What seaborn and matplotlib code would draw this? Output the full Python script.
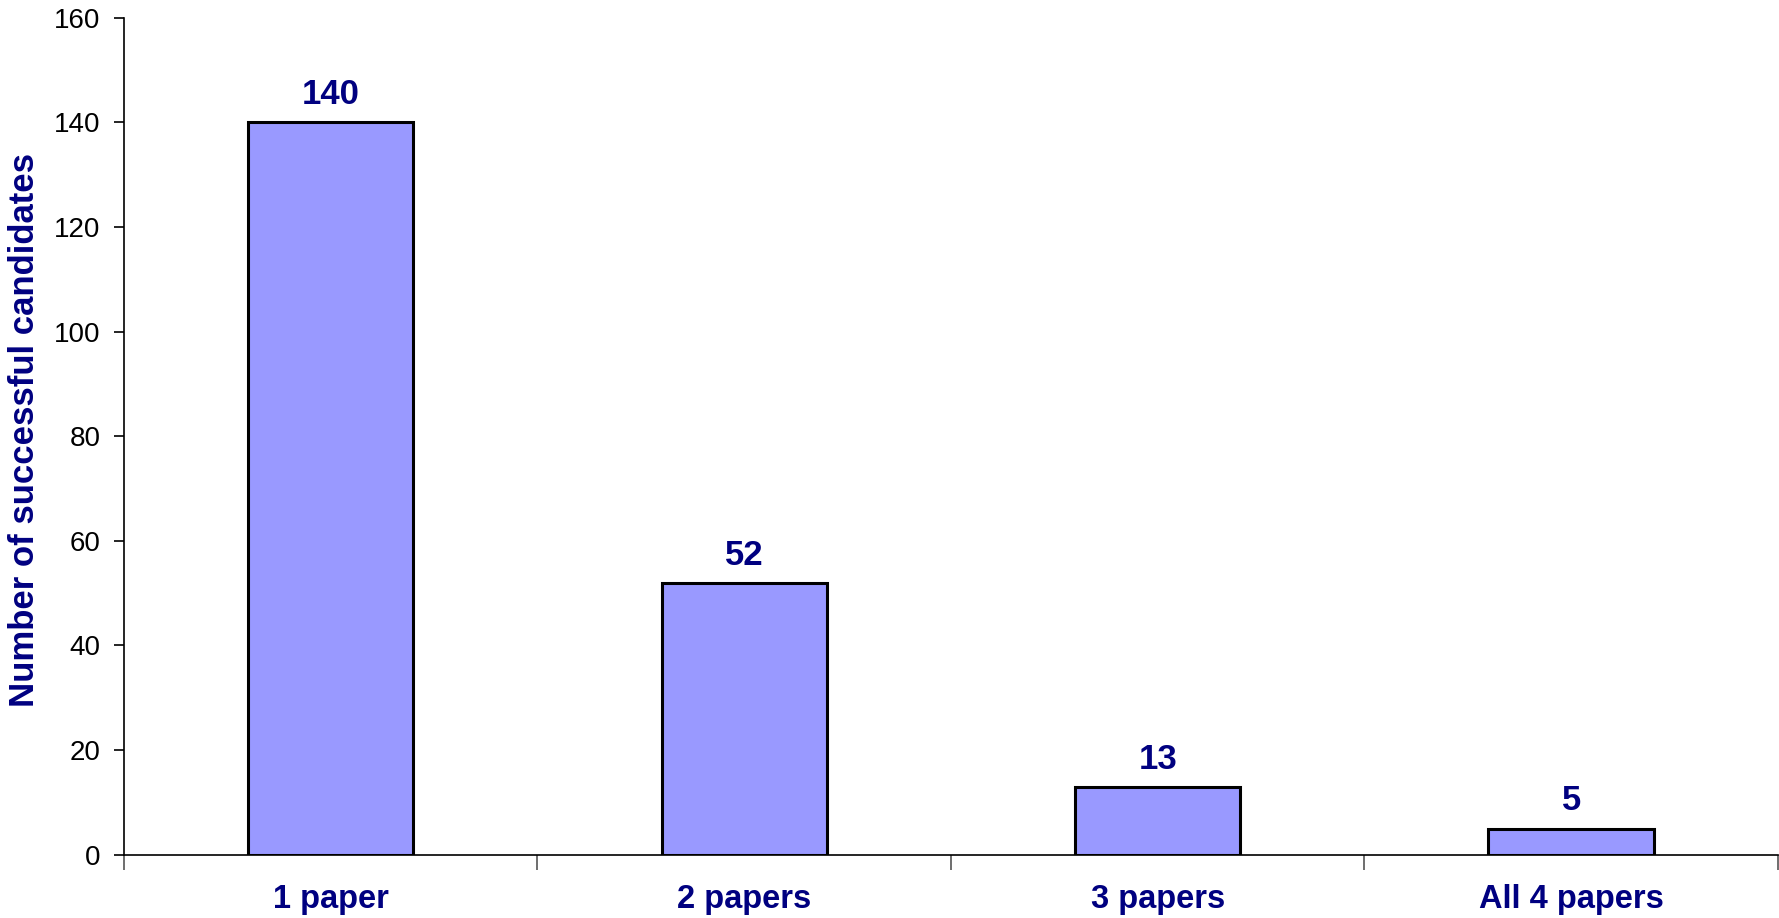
import matplotlib
matplotlib.use("Agg")
import matplotlib.pyplot as plt
import pandas as pd
import seaborn as sns

categories = ["1 paper", "2 papers", "3 papers", "All 4 papers"]
counts = [140, 52, 13, 5]

navy = "#000080"

sns.set_style("white")
plt.rcParams['font.family'] = ['Liberation Sans', 'DejaVu Sans']

df = pd.DataFrame({"papers": categories, "count": counts})

fig = plt.figure(figsize=(17.79, 9.18), dpi=100)
ax = fig.add_axes([0.0697, 0.069, 0.9297, 0.9115])

sns.barplot(data=df, x="papers", y="count", ax=ax, width=0.4,
            color="#9999FF", saturation=1, edgecolor="black", linewidth=2.2)

# value labels above the bars
for container in ax.containers:
    ax.bar_label(container, padding=8, fontsize=25, fontweight="bold", color=navy)

ax.set_ylim(0, 160)
ax.set_yticks(range(0, 161, 20))
ax.set_xlim(-0.5, 3.5)

# category labels in the middle, tick marks on the boundaries
ax.set_xticks([-0.5, 0.5, 1.5, 2.5, 3.5])
ax.set_xticklabels([])
ax.set_xticks(range(len(categories)), minor=True)
ax.set_xticklabels(categories, minor=True, fontsize=23.5, fontweight="bold", color=navy)
ax.tick_params(axis="x", which="minor", length=0, pad=21)
ax.tick_params(axis="x", which="major", length=11, width=1.2, color="#555555", direction="out")
ax.tick_params(axis="y", length=7, width=1.2, direction="out", labelsize=20, pad=10, colors="black")
ax.tick_params(left=True, bottom=True, which="major")

ax.set_xlabel("")
ax.set_ylabel("Number of successful candidates", fontsize=25, fontweight="bold", color=navy)
ax.yaxis.set_label_coords(-0.05, 0.508)

sns.despine(ax=ax, top=True, right=True)
for side in ["left", "bottom"]:
    ax.spines[side].set_color("black")
    ax.spines[side].set_linewidth(1.2)

fig.savefig("out.png", dpi=100)
